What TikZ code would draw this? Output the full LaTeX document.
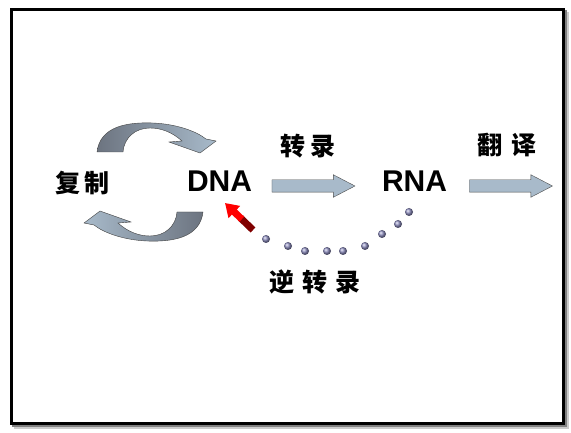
\documentclass[tikz,border=0pt]{standalone}
\usepackage{fontspec}
\setmainfont{Liberation Sans}
\newfontfamily\cjk{Noto Sans CJK SC}
\usetikzlibrary{shapes.arrows,arrows.meta,calc}

\definecolor{arrowblue}{RGB}{168,186,202}
\definecolor{arrowgrey}{RGB}{108,116,128}
\definecolor{dotblue}{RGB}{140,140,190}

\begin{document}
\begin{tikzpicture}[x=1pt, y=-1pt,
    hanzi/.style={font=\cjk\bfseries\fontsize{25}{25}\selectfont, inner sep=0pt},
    acid/.style={font=\bfseries\fontsize{30}{30}\selectfont, inner sep=0pt},
    blockarr/.style={single arrow, draw=black!70, fill=arrowblue, thin, inner xsep=0pt, inner ysep=6pt, minimum width=22pt, minimum height=83pt, single arrow head extend=5pt, single arrow tip angle=55},
    curvearr/.style={draw=black!75, thin},
    dot/.style={ball color=dotblue}
]
    \useasboundingbox (0,0) rectangle (571,433);
    % Rahmen mit Schatten
    \draw[black!20, line width=3pt] (15,14) rectangle (567.5,427.5);
    \draw[black!50, line width=3pt] (13,12) rectangle (565.5,425.5);
    \draw[fill=white, line width=3pt] (11,10) rectangle (563.5,423.5);

    % Beschriftungen
    \node[acid] (dna) at (219.5,181) {DNA};
    \node[acid] (rna) at (414.5,181) {RNA};
    \node[hanzi] (rep) at (82.5,183) {复\hspace{5pt}制};
    \node[hanzi] (tsc) at (307.5,146) {转\hspace{5pt}录};
    \node[hanzi] (tsl) at (507,145) {翻\hspace{9pt}译};
    \node[hanzi] (rtsc) at (315,282) {逆\hspace{8pt}转\hspace{8pt}录};

    % Blockpfeile
    \node[blockarr] (tscarr) at (307.5,186) {};
    \node[blockarr] (tslarr) at (505,186) {};

    % Replikation
    \foreach \ang/\lc/\rc in {0/arrowgrey/arrowblue, 180/arrowblue/arrowgrey}
        \draw[curvearr, left color=\lc, right color=\rc, rotate around={\ang:(150,182)}]
            (97,152) .. controls (100,126) and (128,122) .. (153,123)
            .. controls (176,124) and (196,131) .. (206,139)
            -- (216,141) -- (200,153) -- (169,142) -- (182,141)
            .. controls (172,132) and (161,128) .. (150,128)
            .. controls (135,128) and (124,138) .. (123,152) -- cycle;

    % reverse Transkription
    \foreach \x/\y in {266/239, 288/246, 305/251, 327/251, 343/251, 365/246, 382/234, 398/224, 409/212}
        \shade[dot] (\x,\y) circle (4);
    \coordinate (rtail) at (253,230);
    \coordinate (rtip) at (225,203);
    \draw[line width=7pt, red!50!black] (rtail) -- ($(rtail)!0.45!(rtip)$);
    \draw[line width=7pt, red, -{Triangle[width=16pt,length=13pt]}] ($(rtail)!0.4!(rtip)$) -- (rtip);
\end{tikzpicture}
\end{document}
